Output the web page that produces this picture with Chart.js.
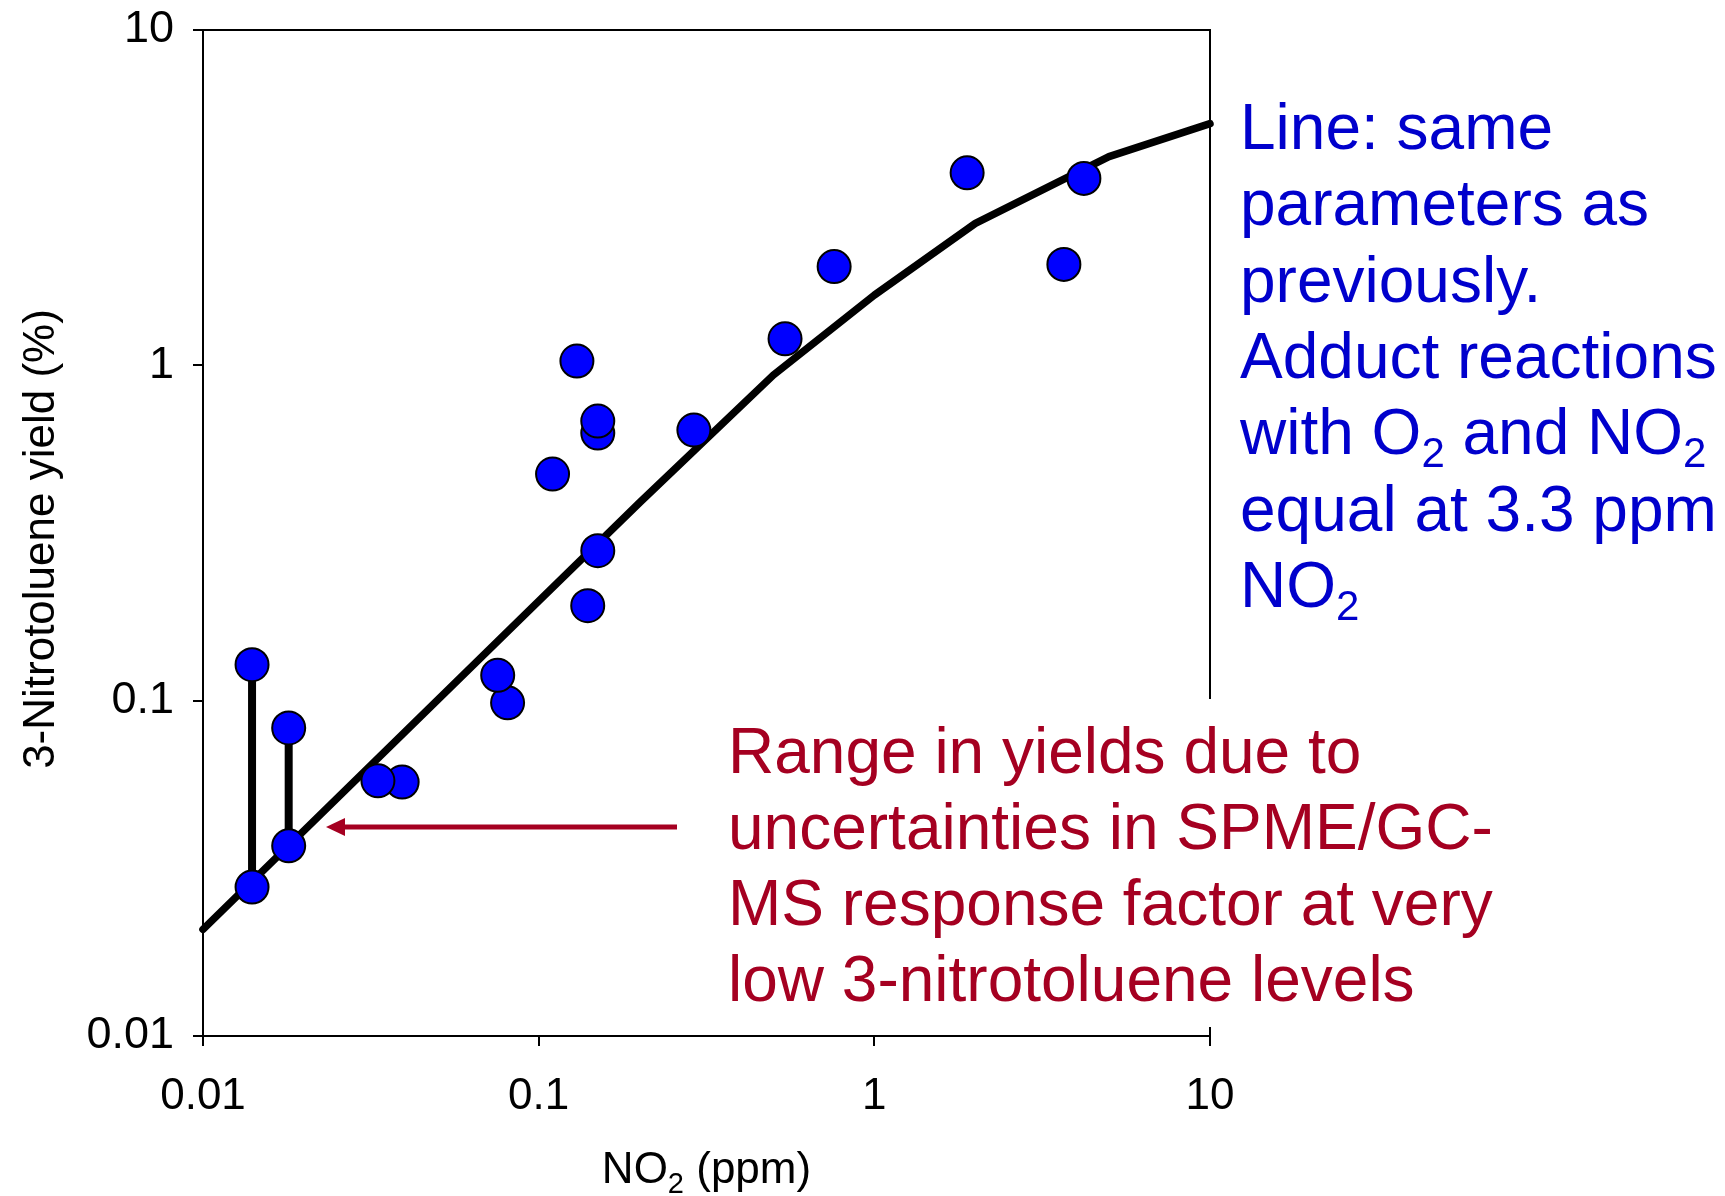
<!DOCTYPE html>
<html><head><meta charset="utf-8">
<script src="https://cdn.jsdelivr.net/npm/chart.js@4.4.1/dist/chart.umd.min.js"></script>
<style>html,body{margin:0;padding:0;background:#fff;} #wrap{width:1725px;height:1196px;position:relative;}</style>
</head><body><div id="wrap"><canvas id="c" width="1725" height="1196"></canvas></div>
<script>
const FONT = '"Liberation Sans", Arial, Helvetica, sans-serif';

// measured points (NO2 ppm, 3-nitrotoluene yield %)
const pointX = [0.0140, 0.0140, 0.0180, 0.0180, 0.0392, 0.0332, 0.0808, 0.0755, 0.110, 0.130, 0.140, 0.150, 0.150, 0.150, 0.290, 0.542, 0.759, 1.89, 3.67, 4.21];
const pointY = [0.128, 0.0278, 0.0829, 0.0369, 0.0572, 0.0577, 0.0985, 0.119, 0.474, 1.03, 0.192, 0.280, 0.628, 0.682, 0.641, 1.20, 1.97, 3.75, 2.00, 3.61];

// uncertainty ranges at the two lowest NO2 levels
const rangeX = [0.0140, 0.0180];
const rangeLow = [0.0278, 0.0369];
const rangeHigh = [0.128, 0.0829];

// model line
const modelX = [0.01, 0.1, 0.2, 0.5, 1, 2, 5, 10];
const modelY = [0.0208, 0.198, 0.39, 0.935, 1.62, 2.65, 4.19, 5.26];

// axes
const xTickValues = [0.01, 0.1, 1, 10];
const xTickLabels = ['0.01', '0.1', '1', '10'];
const yTickValues = [0.01, 0.1, 1, 10];
const yTickLabels = ['0.01', '0.1', '1', '10'];
const xTitle = [['NO', 0], ['2', 1], [' (ppm)', 0]];
const yTitle = '3-Nitrotoluene yield (%)';

// annotations
const blueNote = [
  [['Line: same', 0]],
  [['parameters as', 0]],
  [['previously.', 0]],
  [['Adduct reactions', 0]],
  [['with O', 0], ['2', 1], [' and NO', 0], ['2', 1]],
  [['equal at 3.3 ppm', 0]],
  [['NO', 0], ['2', 1]]
];
const redNote = [
  'Range in yields due to',
  'uncertainties in SPME/GC-',
  'MS response factor at very',
  'low 3-nitrotoluene levels'
];

function drawRich(ctx, segs, x, y, size, subSize, subShift, measureOnly) {
  let cx = x;
  for (const [t, sub] of segs) {
    ctx.font = (sub ? subSize : size) + 'px ' + FONT;
    if (!measureOnly) ctx.fillText(t, cx, y + (sub ? subShift : 0));
    cx += ctx.measureText(t).width;
  }
  return cx - x;
}

const decor = {
  id: 'decor',
  beforeDatasetsDraw(chart) {
    const {ctx, chartArea: a} = chart;
    ctx.save();
    ctx.strokeStyle = '#000';
    ctx.lineWidth = 2;
    ctx.beginPath();
    ctx.moveTo(a.left, a.top);
    ctx.lineTo(a.right, a.top);
    ctx.lineTo(a.right, a.bottom);
    ctx.stroke();
    ctx.restore();
  },
  afterDraw(chart) {
    const {ctx, chartArea: a} = chart;
    ctx.save();
    // white text box hiding part of the right frame
    ctx.fillStyle = '#fff';
    ctx.fillRect(700, 699, 860, 328);

    // red note
    ctx.fillStyle = '#A50021';
    ctx.textAlign = 'left';
    ctx.textBaseline = 'alphabetic';
    ctx.font = '64px ' + FONT;
    redNote.forEach((t, i) => ctx.fillText(t, 728, 773 + i * 76));

    // arrow
    ctx.strokeStyle = '#A50021';
    ctx.lineWidth = 5;
    ctx.beginPath();
    ctx.moveTo(677, 827);
    ctx.lineTo(340, 827);
    ctx.stroke();
    ctx.beginPath();
    ctx.moveTo(326, 827);
    ctx.lineTo(345, 818);
    ctx.lineTo(345, 836);
    ctx.closePath();
    ctx.fill();

    // blue note
    ctx.fillStyle = '#0000CC';
    blueNote.forEach((segs, i) => drawRich(ctx, segs, 1240, 149 + i * 76.3, 64, 42, 13));

    // axis titles
    ctx.fillStyle = '#000';
    const w = drawRich(ctx, xTitle, 0, 0, 44, 29, 10, true);
    drawRich(ctx, xTitle, (a.left + a.right) / 2 - w / 2, 1183, 44, 29, 10);

    ctx.font = '44px ' + FONT;
    ctx.translate(54, (a.top + a.bottom) / 2 + 6);
    ctx.rotate(-Math.PI / 2);
    ctx.textAlign = 'center';
    ctx.fillText(yTitle, 0, 0);
    ctx.restore();
  }
};

const ctx = document.getElementById('c').getContext('2d');
new Chart(ctx, {
  type: 'scatter',
  data: {
    datasets: [
      {
        label: 'measured',
        data: pointX.map((x, i) => ({x, y: pointY[i]})),
        pointRadius: 16.5,
        pointHoverRadius: 16.5,
        pointBorderWidth: 2,
        pointBackgroundColor: '#0000FF',
        pointBorderColor: '#000',
        showLine: false,
        order: 0
      },
      {
        label: 'model',
        data: modelX.map((x, i) => ({x, y: modelY[i]})),
        showLine: true,
        pointRadius: 0,
        borderColor: '#000',
        borderWidth: 7.5,
        borderCapStyle: 'round',
        borderJoinStyle: 'round',
        tension: 0,
        clip: false,
        order: 1
      },
      ...rangeX.map((x, i) => ({
        label: 'range' + i,
        data: [{x, y: rangeLow[i]}, {x, y: rangeHigh[i]}],
        showLine: true,
        pointRadius: 0,
        borderColor: '#000',
        borderWidth: 8,
        order: 2
      }))
    ]
  },
  options: {
    responsive: false,
    animation: false,
    devicePixelRatio: 1,
    events: [],
    layout: {padding: {left: 0, top: 30, right: 515, bottom: 0}},
    plugins: {legend: {display: false}, tooltip: {enabled: false}},
    scales: {
      x: {
        type: 'logarithmic',
        position: 'bottom',
        min: 0.01, max: 10,
        afterBuildTicks: s => { s.ticks = xTickValues.map(v => ({value: v})); },
        afterFit: s => { s.height = 160; s.paddingLeft = 0; s.paddingRight = 0; },
        ticks: {
          callback: (v, i) => xTickLabels[i],
          font: {family: FONT, size: 44},
          color: '#000',
          padding: 24,
          maxRotation: 0,
          autoSkip: false
        },
        grid: {drawOnChartArea: false, drawTicks: true, tickLength: 10, color: '#000', lineWidth: 2},
        border: {display: true, color: '#000', width: 2}
      },
      y: {
        type: 'logarithmic',
        position: 'left',
        min: 0.01, max: 10,
        afterBuildTicks: s => { s.ticks = yTickValues.map(v => ({value: v})); },
        afterFit: s => { s.width = 203; s.paddingTop = 0; s.paddingBottom = 0; },
        ticks: {
          callback: (v, i) => yTickLabels[i],
          font: {family: FONT, size: 45},
          color: '#000',
          padding: 19,
          autoSkip: false
        },
        grid: {drawOnChartArea: false, drawTicks: true, tickLength: 10, color: '#000', lineWidth: 2},
        border: {display: true, color: '#000', width: 2}
      }
    }
  },
  plugins: [decor]
});
</script>
</body></html>
